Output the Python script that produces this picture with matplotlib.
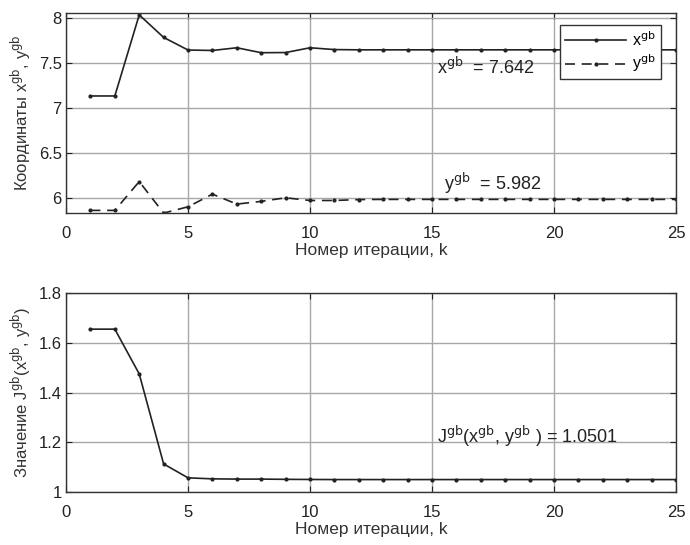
import matplotlib
matplotlib.use("Agg")
import matplotlib.pyplot as plt

plt.rcParams['font.family'] = ['Liberation Sans', 'DejaVu Sans']

k = list(range(1, 26))
x_gb = [7.13, 7.13, 8.03, 7.78, 7.64, 7.635, 7.665, 7.61, 7.612, 7.665, 7.645,
        7.642, 7.642, 7.642, 7.642, 7.642, 7.642, 7.642, 7.642, 7.642, 7.642,
        7.642, 7.642, 7.642, 7.642]
y_gb = [5.86, 5.86, 6.18, 5.83, 5.90, 6.04, 5.93, 5.96, 6.00, 5.97, 5.97,
        5.98, 5.982, 5.982, 5.982, 5.982, 5.982, 5.982, 5.982, 5.982, 5.982,
        5.982, 5.982, 5.982, 5.982]
j_gb = [1.655, 1.655, 1.475, 1.113, 1.057, 1.053, 1.052, 1.052, 1.051, 1.0505,
        1.0501, 1.0501, 1.0501, 1.0501, 1.0501, 1.0501, 1.0501, 1.0501, 1.0501,
        1.0501, 1.0501, 1.0501, 1.0501, 1.0501, 1.0501]

x_final = 7.642
y_final = 5.982
j_final = 1.0501

fig = plt.figure(figsize=(6.9, 5.45), dpi=100)
ax1 = fig.add_axes([0.0957, 0.609, 0.884, 0.367])
ax2 = fig.add_axes([0.0957, 0.0972, 0.884, 0.365])

grid_kw = dict(color='#a8a8a8', linewidth=1.0, linestyle='-')
label_color = '#333333'


def style(ax):
    ax.grid(True, **grid_kw)
    ax.set_axisbelow(True)
    ax.tick_params(direction='in', length=4, width=0.8, labelsize=12,
                   colors='#222222', top=True, right=True, labeltop=False,
                   labelright=False)
    ax.tick_params(axis='x', pad=9)
    ax.tick_params(axis='y', pad=3)
    for s in ax.spines.values():
        s.set_color('#333333')
        s.set_linewidth(1.0)
    ax.set_xlim(0, 25)
    ax.set_xticks([0, 5, 10, 15, 20, 25])
    ax.set_xlabel('Номер итерации, k', fontsize=12.5, color=label_color, labelpad=2)


ax1.plot(k, x_gb, color='#222222', lw=1.2, marker='.', ms=4, label='x$^{\\rm gb}$')
ax1.plot(k, y_gb, color='#222222', lw=1.2, ls=(0, (6, 4)), marker='.', ms=4,
         label='y$^{\\rm gb}$')
style(ax1)
ax1.set_ylim(5.83, 8.05)
ax1.set_yticks([6, 6.5, 7, 7.5, 8])
ax1.set_yticklabels(['6', '6.5', '7', '7.5', '8'])
ax1.set_ylabel('Координаты x$^{\\rm gb}$, y$^{\\rm gb}$', fontsize=12,
               color=label_color, labelpad=4)
leg = ax1.legend(loc='upper right', fontsize=11.5, frameon=True, fancybox=False,
                 edgecolor='#333333', framealpha=1, handlelength=3.8,
                 handletextpad=0.4, borderpad=0.3, labelspacing=0.25,
                 borderaxespad=0, bbox_to_anchor=(0.975, 0.94))
leg.get_frame().set_linewidth(1.0)
ax1.text(15.2, 7.45, 'x$^{\\rm gb}$  = %.3f' % x_final, fontsize=13,
         color='#222222', va='center')
ax1.text(15.5, 6.16, 'y$^{\\rm gb}$  = %.3f' % y_final, fontsize=13,
         color='#222222', va='center')

ax2.plot(k, j_gb, color='#222222', lw=1.2, marker='.', ms=4)
style(ax2)
ax2.set_ylim(1.0, 1.8)
ax2.set_yticks([1.0, 1.2, 1.4, 1.6, 1.8])
ax2.set_yticklabels(['1', '1.2', '1.4', '1.6', '1.8'])
ax2.set_ylabel('Значение J$^{\\rm gb}$(x$^{\\rm gb}$, y$^{\\rm gb}$)', fontsize=12,
               color=label_color, labelpad=4)
ax2.text(15.2, 1.225, 'J$^{\\rm gb}$(x$^{\\rm gb}$, y$^{\\rm gb}$ ) = %.4f' % j_final,
         fontsize=13, color='#222222', va='center')

fig.savefig('out.png', dpi=100)
